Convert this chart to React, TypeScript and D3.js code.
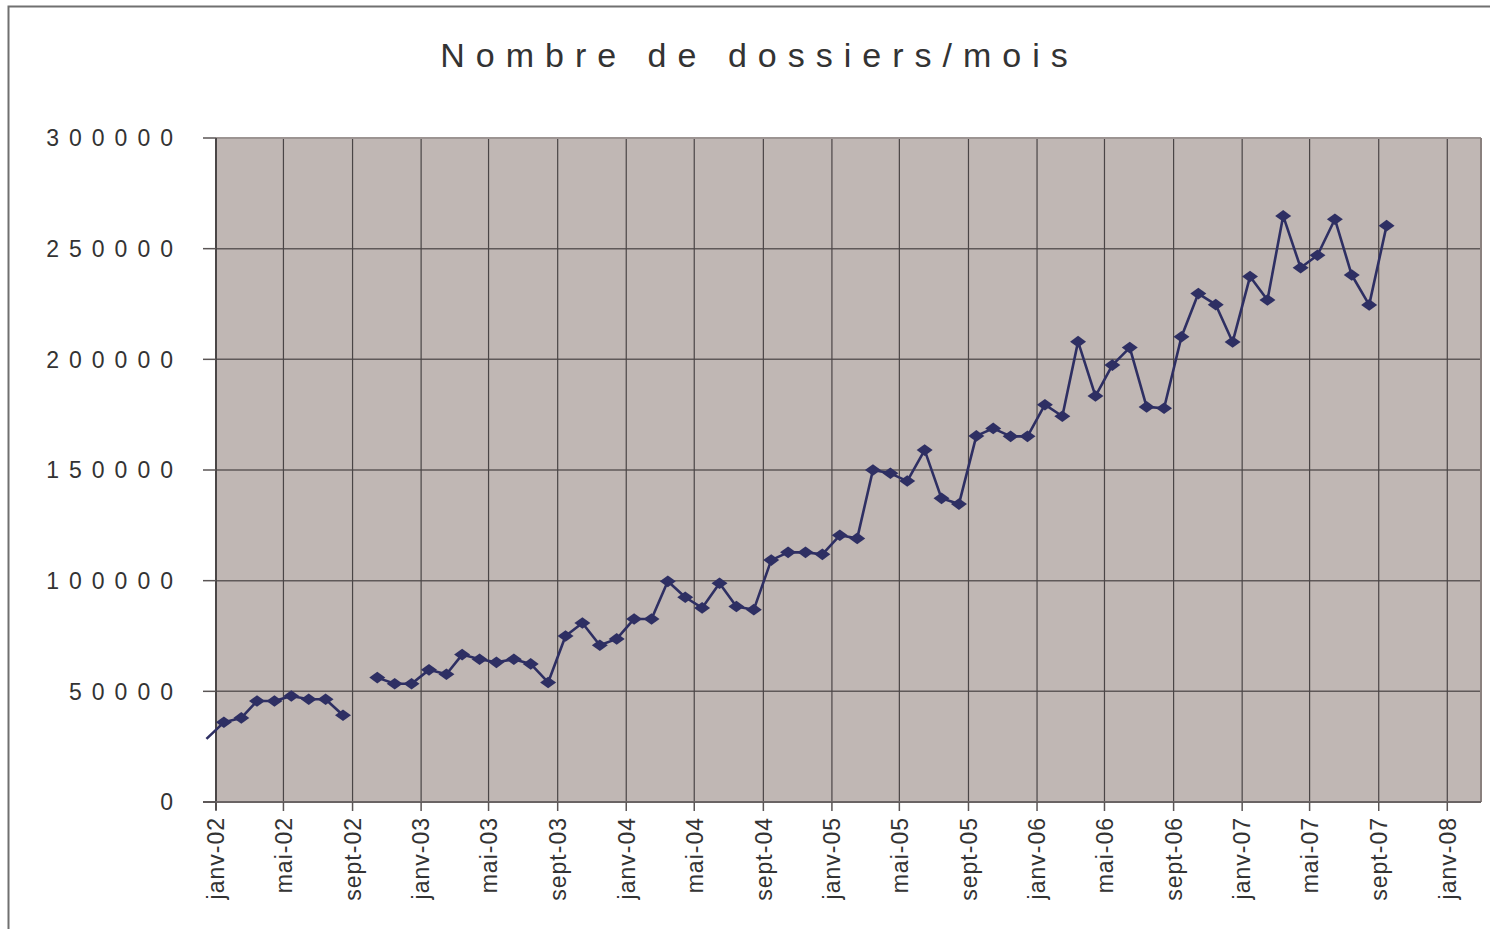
import { useEffect, useRef } from "react";
import * as d3 from "d3";

const title = "Nombre de dossiers/mois";

// one value per month, starting déc-01 (null = month with no figure)
const firstMonth = new Date(2001, 11, 15);
const v2001 = [28500];
const v2002 = [36000, 38000, 45600, 45600, 47900, 46400, 46400, 39200, null, 56200, 53400, 53400];
const v2003 = [59700, 57700, 66600, 64500, 63100, 64500, 62400, 54000, 75000, 80900, 70800, 73700];
const v2004 = [82700, 82700, 99700, 92500, 87700, 98800, 88300, 86900, 109300, 112800, 112800, 111900];
const v2005 = [120500, 119100, 150000, 148500, 145000, 159000, 137200, 134600, 165400, 168800, 165200, 165200];
const v2006 = [179500, 174300, 208000, 183400, 197400, 205300, 178500, 177900, 210200, 229700, 224700, 207800];
const v2007 = [237400, 226800, 264800, 241400, 247000, 263300, 238100, 224600, 260400];

const yTicks = [0, 50000, 100000, 150000, 200000, 250000, 300000];
const moisCourts = ["janv", "févr", "mars", "avr", "mai", "juin", "juil", "août", "sept", "oct", "nov", "déc"];

const FONT = "'Liberation Sans', Arial, Helvetica, sans-serif";

export default function App() {
  const svgRef = useRef<SVGSVGElement>(null);

  useEffect(() => {
    const svg = svgRef.current;
    if (!svg) return;

    const root = d3.select(svg);
    root.selectAll("*").remove();

    const width = 1490;
    const height = 929;
    const plot = { left: 216, top: 138, right: 1481, bottom: 802 };
    const ink = "#2e2f63";

    const values = [...v2001, ...v2002, ...v2003, ...v2004, ...v2005, ...v2006, ...v2007];
    const data = values.map((v, i) => ({ date: d3.timeMonth.offset(firstMonth, i), v }));

    const xStart = new Date(2002, 0, 1);
    const x = d3.scaleTime().domain([xStart, new Date(2008, 2, 1)]).range([plot.left, plot.right]);
    const y = d3.scaleLinear().domain([0, 300000]).range([plot.bottom, plot.top]);
    const xTicks = d3.timeMonth.every(4)!.range(xStart, new Date(2008, 0, 2));

    root.attr("width", width).attr("height", height);

    // outer frame
    root.append("rect")
      .attr("x", 8.5).attr("y", 6.5)
      .attr("width", width).attr("height", height)
      .attr("fill", "#ffffff")
      .attr("stroke", "#707070")
      .attr("stroke-width", 2);

    // title
    root.append("text")
      .attr("x", 754 + 5.5)
      .attr("y", 67)
      .attr("text-anchor", "middle")
      .attr("font-family", FONT)
      .attr("font-size", 34)
      .attr("letter-spacing", 11)
      .attr("fill", "#333333")
      .text(title);

    // plot area
    root.append("rect")
      .attr("x", plot.left).attr("y", plot.top)
      .attr("width", plot.right - plot.left).attr("height", plot.bottom - plot.top)
      .attr("fill", "#c0b7b4");

    // horizontal grid
    root.append("g")
      .selectAll("line")
      .data(yTicks.filter((t) => t > 0 && t < 300000))
      .enter()
      .append("line")
      .attr("x1", plot.left).attr("x2", plot.right)
      .attr("y1", (d) => y(d)).attr("y2", (d) => y(d))
      .attr("stroke", "#5f5959")
      .attr("stroke-width", 1.5);

    // vertical grid
    root.append("g")
      .selectAll("line")
      .data(xTicks.slice(1))
      .enter()
      .append("line")
      .attr("x1", (d) => x(d)).attr("x2", (d) => x(d))
      .attr("y1", plot.top).attr("y2", plot.bottom)
      .attr("stroke", "#4a4546")
      .attr("stroke-width", 1.2);

    // plot border top / right
    root.append("line")
      .attr("x1", plot.left).attr("x2", plot.right)
      .attr("y1", plot.top).attr("y2", plot.top)
      .attr("stroke", "#9c9492").attr("stroke-width", 2);
    root.append("line")
      .attr("x1", plot.right).attr("x2", plot.right)
      .attr("y1", plot.top).attr("y2", plot.bottom)
      .attr("stroke", "#8a807e").attr("stroke-width", 2);

    // axes lines
    root.append("line")
      .attr("x1", plot.left).attr("x2", plot.left)
      .attr("y1", plot.top).attr("y2", plot.bottom + 8)
      .attr("stroke", "#4a4646").attr("stroke-width", 2);
    root.append("line")
      .attr("x1", plot.left - 13).attr("x2", plot.right)
      .attr("y1", plot.bottom).attr("y2", plot.bottom)
      .attr("stroke", "#6a6464").attr("stroke-width", 2);

    // y ticks + labels
    const yAxis = root.append("g");
    yAxis.selectAll("line")
      .data(yTicks)
      .enter()
      .append("line")
      .attr("x1", plot.left - 13).attr("x2", plot.left)
      .attr("y1", (d) => y(d)).attr("y2", (d) => y(d))
      .attr("stroke", "#5a5555").attr("stroke-width", 1.5);
    yAxis.selectAll("text")
      .data(yTicks)
      .enter()
      .append("text")
      .attr("x", 173 + 10)
      .attr("y", (d) => y(d))
      .attr("dy", "0.36em")
      .attr("text-anchor", "end")
      .attr("font-family", FONT)
      .attr("font-size", 23)
      .attr("letter-spacing", 10)
      .attr("fill", "#333333")
      .text((d) => String(d));

    // x ticks + labels
    const xAxis = root.append("g");
    xAxis.selectAll("line")
      .data(xTicks)
      .enter()
      .append("line")
      .attr("x1", (d) => x(d)).attr("x2", (d) => x(d))
      .attr("y1", plot.bottom).attr("y2", plot.bottom + 9)
      .attr("stroke", "#5a5555").attr("stroke-width", 1.5);
    xAxis.selectAll("text")
      .data(xTicks)
      .enter()
      .append("text")
      .attr("transform", (d) => `translate(${x(d)},${plot.bottom + 15}) rotate(-90)`)
      .attr("dy", "0.36em")
      .attr("text-anchor", "end")
      .attr("font-family", FONT)
      .attr("font-size", 23)
      .attr("letter-spacing", 1)
      .attr("fill", "#333333")
      .text((d) => `${moisCourts[d.getMonth()]}-${d3.timeFormat("%y")(d)}`);

    // series line
    const line = d3.line<{ date: Date; v: number | null }>()
      .defined((d) => d.v != null)
      .x((d) => x(d.date))
      .y((d) => y(d.v as number));

    root.append("path")
      .datum(data)
      .attr("d", line)
      .attr("fill", "none")
      .attr("stroke", ink)
      .attr("stroke-width", 2.6)
      .attr("stroke-linejoin", "round");

    // diamond markers (only inside the date range)
    root.append("g")
      .selectAll("path")
      .data(data.filter((d) => d.v != null && d.date >= xStart))
      .enter()
      .append("path")
      .attr("transform", (d) => `translate(${x(d.date)},${y(d.v as number)})`)
      .attr("d", "M0,-5.8L8,0L0,5.8L-8,0Z")
      .attr("fill", ink);
  }, []);

  return (
    <svg
      ref={svgRef}
      style={{ position: "absolute", left: 0, top: 0, display: "block" }}
    />
  );
}
